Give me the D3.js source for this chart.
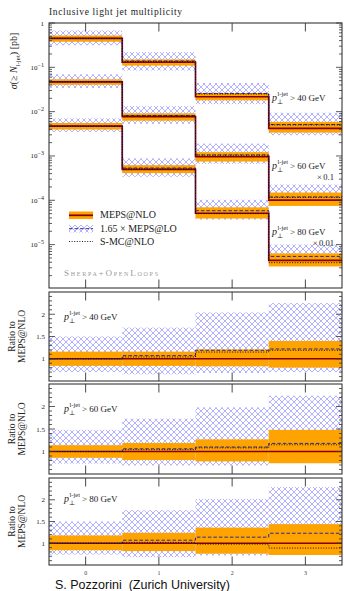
<!DOCTYPE html>
<html><head><meta charset="utf-8">
<script src="https://cdn.jsdelivr.net/npm/d3@7"></script>
<style>body{margin:0;background:#fff}svg{display:block}</style>
</head><body>
<script>
// ---------- data ----------
const bins = [0, 1, 2, 3];
const cuts = ["40", "60", "80"];
const scaleNotes = ["", "×\u20090.1", "×\u20090.01"];
const mainTicks = [1, 1e-1, 1e-2, 1e-3, 1e-4, 1e-5];
const ratioTicks = [1, 1.5, 2];
// MEPS@NLO central values in the main plot (already multiplied by 1, 0.1, 0.01)
const nlo40 = [0.45, 0.13, 0.0217, 0.0042];
const nlo60 = [0.047, 0.0077, 0.00096, 0.000101];
const nlo80 = [0.0047, 0.0005, 0.000051, 0.0000044];
// MEPS@NLO uncertainty band (ratio to central)
const nloLo40 = [0.84, 0.84, 0.83, 0.80], nloHi40 = [1.16, 1.16, 1.21, 1.40];
const nloLo60 = [0.86, 0.81, 0.78, 0.74], nloHi60 = [1.14, 1.19, 1.27, 1.48];
const nloLo80 = [0.84, 0.82, 0.76, 0.73], nloHi80 = [1.18, 1.24, 1.36, 1.44];
// 1.65 x MEPS@LO (ratio to MEPS@NLO) central and band
const lo40 = [1.00, 1.07, 1.19, 1.22], loLo40 = [0.70, 0.65, 0.68, 0.70], loHi40 = [1.50, 1.70, 2.04, 2.25];
const lo60 = [1.00, 1.06, 1.10, 1.18], loLo60 = [0.73, 0.69, 0.69, 0.74], loHi60 = [1.48, 1.73, 1.98, 2.24];
const lo80 = [1.00, 1.07, 1.14, 1.23], loLo80 = [0.74, 0.68, 0.72, 0.76], loHi80 = [1.50, 1.76, 2.02, 2.29];
// S-MC@NLO (ratio to MEPS@NLO)
const smc40 = [1.00, 1.04, 1.15, 1.19];
const smc60 = [1.00, 1.04, 1.08, 1.15];
const smc80 = [1.00, 1.02, 0.98, 0.89];

const sets = [
  {cut: cuts[0], note: scaleNotes[0], c: nlo40, nl: nloLo40, nh: nloHi40, lo: lo40, ll: loLo40, lh: loHi40, smc: smc40},
  {cut: cuts[1], note: scaleNotes[1], c: nlo60, nl: nloLo60, nh: nloHi60, lo: lo60, ll: loLo60, lh: loHi60, smc: smc60},
  {cut: cuts[2], note: scaleNotes[2], c: nlo80, nl: nloLo80, nh: nloHi80, lo: lo80, ll: loLo80, lh: loHi80, smc: smc80}
];

// ---------- layout ----------
const W = 344, H = 591, L = 49, R = 342;
const mainTop = 23, mainBot = 288;
const rPanels = [{top: 292, bot: 381, lab: 320}, {top: 384, bot: 474, lab: 411.5}, {top: 478, bot: 565, lab: 502}];
const SERIF = "'Liberation Serif', 'DejaVu Serif', serif";
const ORANGE = "#ffa300", RED = "#860000", BLUE = "#2a2a96", HATCH = "#a9a9ff";

const svg = d3.select("body").append("svg").attr("width", W).attr("height", H);
const defs = svg.append("defs");
const pat = defs.append("pattern").attr("id", "hatch").attr("patternUnits", "userSpaceOnUse")
  .attr("width", 6).attr("height", 6);
pat.append("path").attr("d", "M0,0L6,6M6,0L0,6")
  .attr("stroke", HATCH).attr("stroke-width", 0.9).attr("fill", "none");

const x = d3.scaleLinear().domain([-0.5, 3.5]).range([L, R]);
const yMain = d3.scaleLog().domain([1.05e-6, 1]).range([mainBot, mainTop]);

function clip(id, top, bot) {
  defs.append("clipPath").attr("id", id).append("rect")
    .attr("x", L).attr("y", top).attr("width", R - L).attr("height", bot - top);
}
function stepPts(vals) {
  const pts = [];
  vals.forEach((v, i) => { pts.push([bins[i] - 0.5, v]); pts.push([bins[i] + 0.5, v]); });
  return pts;
}
function drawSet(g, y, cen, nl, nh, lo, ll, lh, smc) {
  g.selectAll(null).data(bins).join("rect")
    .attr("x", i => x(i - 0.5)).attr("width", i => x(i + 0.5) - x(i - 0.5))
    .attr("y", i => y(cen[i] * lh[i])).attr("height", i => y(cen[i] * ll[i]) - y(cen[i] * lh[i]))
    .attr("fill", "url(#hatch)");
  g.selectAll(null).data(bins).join("rect")
    .attr("x", i => x(i - 0.5)).attr("width", i => x(i + 0.5) - x(i - 0.5))
    .attr("y", i => y(cen[i] * nh[i])).attr("height", i => y(cen[i] * nl[i]) - y(cen[i] * nh[i]))
    .attr("fill", ORANGE);
  const line = d3.line().x(d => x(d[0])).y(d => y(d[1]));
  g.append("path").attr("d", line(stepPts(cen))).attr("fill", "none")
    .attr("stroke", RED).attr("stroke-width", 1.7);
  g.append("path").attr("d", line(stepPts(cen.map((c, i) => c * lo[i])))).attr("fill", "none")
    .attr("stroke", BLUE).attr("stroke-width", 1).attr("stroke-dasharray", "3.5,2");
  g.append("path").attr("d", line(stepPts(cen.map((c, i) => c * smc[i])))).attr("fill", "none")
    .attr("stroke", "#000").attr("stroke-width", 0.9).attr("stroke-dasharray", "1,1.6");
}
function frame(top, bot) {
  svg.append("rect").attr("x", L).attr("y", top).attr("width", R - L).attr("height", bot - top)
    .attr("fill", "none").attr("stroke", "#222").attr("stroke-width", 1);
  bins.forEach(b => {
    svg.append("line").attr("x1", x(b)).attr("x2", x(b)).attr("y1", top).attr("y2", top + 8.5)
      .attr("stroke", "#333").attr("stroke-width", 0.9);
    svg.append("line").attr("x1", x(b)).attr("x2", x(b)).attr("y1", bot).attr("y2", bot - 8.5)
      .attr("stroke", "#333").attr("stroke-width", 0.9);
  });
}
function yTick(y, len) {
  svg.append("line").attr("x1", L).attr("x2", L + len).attr("y1", y).attr("y2", y).attr("stroke", "#333").attr("stroke-width", 0.8);
  svg.append("line").attr("x1", R).attr("x2", R - len).attr("y1", y).attr("y2", y).attr("stroke", "#333").attr("stroke-width", 0.8);
}
function ptLabel(px, py, cut) {
  const t = svg.append("g").attr("font-family", SERIF).attr("fill", "#222");
  t.append("text").attr("x", px).attr("y", py).attr("font-size", 10).attr("font-style", "italic").text("p");
  t.append("text").attr("x", px + 5).attr("y", py + 3).attr("font-size", 6.5).text("⊥");
  t.append("text").attr("x", px + 5.5).attr("y", py - 5).attr("font-size", 6.5).text("l-jet");
  t.append("text").attr("x", px + 18).attr("y", py).attr("font-size", 9).text("> " + cut + " GeV");
}

// ---------- main panel ----------
clip("cm", mainTop, mainBot);
const gm = svg.append("g").attr("clip-path", "url(#cm)");
sets.forEach(s => drawSet(gm, yMain, s.c, s.nl, s.nh, s.lo, s.ll, s.lh, s.smc));
frame(mainTop, mainBot);
for (let e = -6; e <= 0; e++) {
  for (let m = 1; m <= 9; m++) {
    const v = m * Math.pow(10, e);
    if (v < 1.05e-6 || v > 1) continue;
    yTick(yMain(v), m === 1 ? 6 : 3);
  }
}
mainTicks.forEach(v => {
  const e = Math.round(Math.log10(v));
  const t = svg.append("text").attr("font-family", SERIF).attr("font-size", 7).attr("fill", "#222")
    .attr("text-anchor", "end").attr("x", 44).attr("y", yMain(v) + 2.5);
  if (e === 0) t.text("1");
  else { t.append("tspan").text("10"); t.append("tspan").attr("dy", -3).attr("font-size", 6).text("\u2212" + (-e)); }
});
svg.append("text").attr("x", L).attr("y", 15).attr("font-family", SERIF).attr("font-size", 9.5)
  .attr("fill", "#222").attr("textLength", 133).text("Inclusive light jet multiplicity");
const yl = svg.append("text").attr("transform", "translate(17,61) rotate(-90)").attr("text-anchor", "middle")
  .attr("font-family", SERIF).attr("font-size", 10).attr("fill", "#222");
yl.append("tspan").attr("font-style", "italic").text("σ");
yl.append("tspan").text("(≥ ");
yl.append("tspan").attr("font-style", "italic").text("N");
yl.append("tspan").attr("dy", 2.5).attr("font-size", 7).text("l-jet");
yl.append("tspan").attr("dy", -2.5).text(") [pb]");
ptLabel(272, 101, sets[0].cut);
ptLabel(272, 168.5, sets[1].cut);
svg.append("text").attr("x", 334).attr("y", 179.5).attr("text-anchor", "end").attr("font-family", SERIF)
  .attr("font-size", 8.5).attr("fill", "#222").text(sets[1].note);
ptLabel(272, 234.5, sets[2].cut);
svg.append("text").attr("x", 334).attr("y", 245.5).attr("text-anchor", "end").attr("font-family", SERIF)
  .attr("font-size", 8.5).attr("fill", "#222").text(sets[2].note);
const lg = svg.append("g");
lg.append("rect").attr("x", 69).attr("y", 211.5).attr("width", 24).attr("height", 7.5).attr("fill", ORANGE);
lg.append("line").attr("x1", 69).attr("x2", 93).attr("y1", 215.3).attr("y2", 215.3).attr("stroke", RED).attr("stroke-width", 1.7);
lg.append("rect").attr("x", 69).attr("y", 225).attr("width", 24).attr("height", 7.5).attr("fill", "url(#hatch)");
lg.append("line").attr("x1", 69).attr("x2", 93).attr("y1", 228.7).attr("y2", 228.7).attr("stroke", BLUE).attr("stroke-width", 1).attr("stroke-dasharray", "3.5,2");
lg.append("line").attr("x1", 69).attr("x2", 93).attr("y1", 241.5).attr("y2", 241.5).attr("stroke", "#000").attr("stroke-width", 0.9).attr("stroke-dasharray", "1,1.6");
[["MEPS@NLO", 218], ["1.65 × MEPS@LO", 231.5], ["S-MC@NLO", 244.5]].forEach(([s, yy]) =>
  lg.append("text").attr("x", 100).attr("y", yy).attr("font-family", SERIF).attr("font-size", 10).attr("fill", "#222").text(s));
svg.append("text").attr("x", 64).attr("y", 276).attr("font-family", SERIF).attr("font-size", 9)
  .attr("font-variant", "small-caps").attr("fill", "#9a9a9a").attr("textLength", 94).text("Sherpa+OpenLoops");

// ---------- ratio panels ----------
rPanels.forEach((p, k) => {
  const s = sets[k];
  const y = d3.scaleLinear().domain([0.5, 2.5]).range([p.bot, p.top]);
  clip("cr" + k, p.top, p.bot);
  const g = svg.append("g").attr("clip-path", "url(#cr" + k + ")");
  drawSet(g, y, bins.map(() => 1), s.nl, s.nh, s.lo, s.ll, s.lh, s.smc);
  frame(p.top, p.bot);
  for (let v = 0.6; v < 2.5; v += 0.1) {
    const vv = Math.round(v * 10) / 10;
    yTick(y(vv), (Math.abs(vv - Math.round(vv * 2) / 2) < 1e-6) ? 6 : 3);
  }
  ratioTicks.forEach(v => svg.append("text").attr("x", 45).attr("y", y(v) + 2.5).attr("text-anchor", "end")
    .attr("font-family", SERIF).attr("font-size", 7).attr("fill", "#222").text(String(v)));
  ptLabel(64, p.lab, s.cut);
  const cy = (p.top + p.bot) / 2;
  const rl = svg.append("g").attr("transform", "translate(0," + cy + ")");
  rl.append("text").attr("transform", "translate(15,0) rotate(-90)").attr("text-anchor", "middle")
    .attr("font-family", SERIF).attr("font-size", 9.5).attr("fill", "#222").text("Ratio to");
  rl.append("text").attr("transform", "translate(25,0) rotate(-90)").attr("text-anchor", "middle")
    .attr("font-family", SERIF).attr("font-size", 9.5).attr("fill", "#222").text("MEPS@NLO");
});
bins.forEach(b => svg.append("text").attr("x", x(b)).attr("y", 575).attr("text-anchor", "middle")
  .attr("font-family", SERIF).attr("font-size", 6).attr("fill", "#444").text(String(b)));
svg.append("text").attr("x", 55).attr("y", 589).attr("font-family", "'Liberation Sans', Arial, sans-serif")
  .attr("font-size", 12.5).attr("fill", "#111").attr("xml:space", "preserve").text("S. Pozzorini  (Zurich University)");
</script>
</body></html>
